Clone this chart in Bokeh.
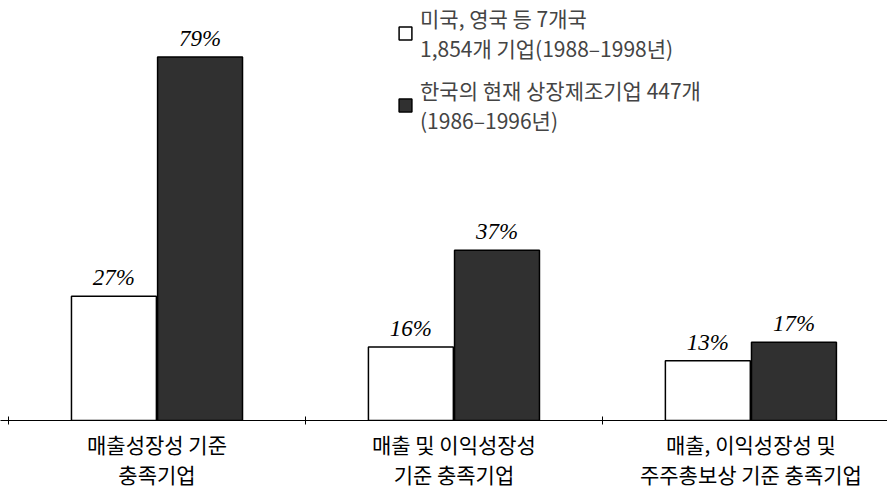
from bokeh.plotting import figure
from bokeh.models import ColumnDataSource, FixedTicker, Legend, LegendItem
from bokeh.transform import dodge
from bokeh.core.properties import value
from bokeh.embed import file_html
from bokeh.resources import INLINE

# ---- data ----
categories = ["매출성장성 기준\n충족기업", "매출 및 이익성장성\n기준 충족기업", "매출, 이익성장성 및\n주주총보상 기준 충족기업"]
group_pos = [0, 1, 2]
foreign_vals = [27, 16, 13]      # 미국, 영국 등 7개국
korea_vals = [79, 37, 17]        # 한국 상장제조기업
series_names = ["미국, 영국 등 7개국\n1,854개 기업(1988–1998년)",
                "한국의 현재 상장제조기업 447개\n(1986–1996년)"]

src = ColumnDataSource(dict(
    x=group_pos,
    foreign=foreign_vals,
    korea=korea_vals,
    foreign_lbl=[f"{v}%" for v in foreign_vals],
    korea_lbl=[f"{v}%" for v in korea_vals],
))

p = figure(frame_width=887, frame_height=420, output_backend="svg",
           toolbar_location=None, x_range=(-0.527, 2.46), y_range=(0, 91.3),
           min_border_left=0, min_border_right=0, min_border_top=0, min_border_bottom=70)

bw = 0.286
r1 = p.vbar(x=dodge("x", -0.145, range=p.x_range), top="foreign", width=bw, source=src,
            fill_color="white", line_color="black", line_width=1.5)
r2 = p.vbar(x=dodge("x", 0.145, range=p.x_range), top="korea", width=bw, source=src,
            fill_color="#303030", line_color="black", line_width=1.5)

for col, ycol, off in (("foreign_lbl", "foreign", -0.145), ("korea_lbl", "korea", 0.145)):
    p.text(x=dodge("x", off, range=p.x_range), y=ycol, text=col, source=src,
           text_align="center", text_baseline="bottom", y_offset=-6,
           text_font=value("Liberation Serif"), text_font_size="23px",
           text_font_style="italic", text_color="black")

p.yaxis.visible = False
p.grid.visible = False
p.outline_line_color = None

ax = p.xaxis[0]
ax.ticker = FixedTicker(ticks=group_pos, minor_ticks=[-0.5, 0.5, 1.5])
ax.major_label_overrides = {i: c for i, c in zip(group_pos, categories)}
ax.major_tick_line_color = None
ax.minor_tick_line_color = "black"
ax.minor_tick_in = 4
ax.minor_tick_out = 4
ax.axis_line_color = "black"
ax.axis_line_width = 1.2
ax.major_label_text_font = "Noto Sans CJK KR"
ax.major_label_text_font_size = "21px"
ax.major_label_text_color = "black"
ax.major_label_standoff = 2
ax.major_label_text_line_height = 1.0

legend = Legend(items=[LegendItem(label=series_names[0], renderers=[r1]),
                       LegendItem(label=series_names[1], renderers=[r2])],
                location=(397, 285), padding=0, margin=0, spacing=12,
                glyph_width=16, glyph_height=16, label_standoff=7,
                label_text_font="Noto Sans CJK KR", label_text_font_size="21px",
                label_text_line_height=1.6,
                background_fill_alpha=0, border_line_color=None)
p.add_layout(legend, "center")

open("out.html", "w").write(file_html(p, INLINE))
